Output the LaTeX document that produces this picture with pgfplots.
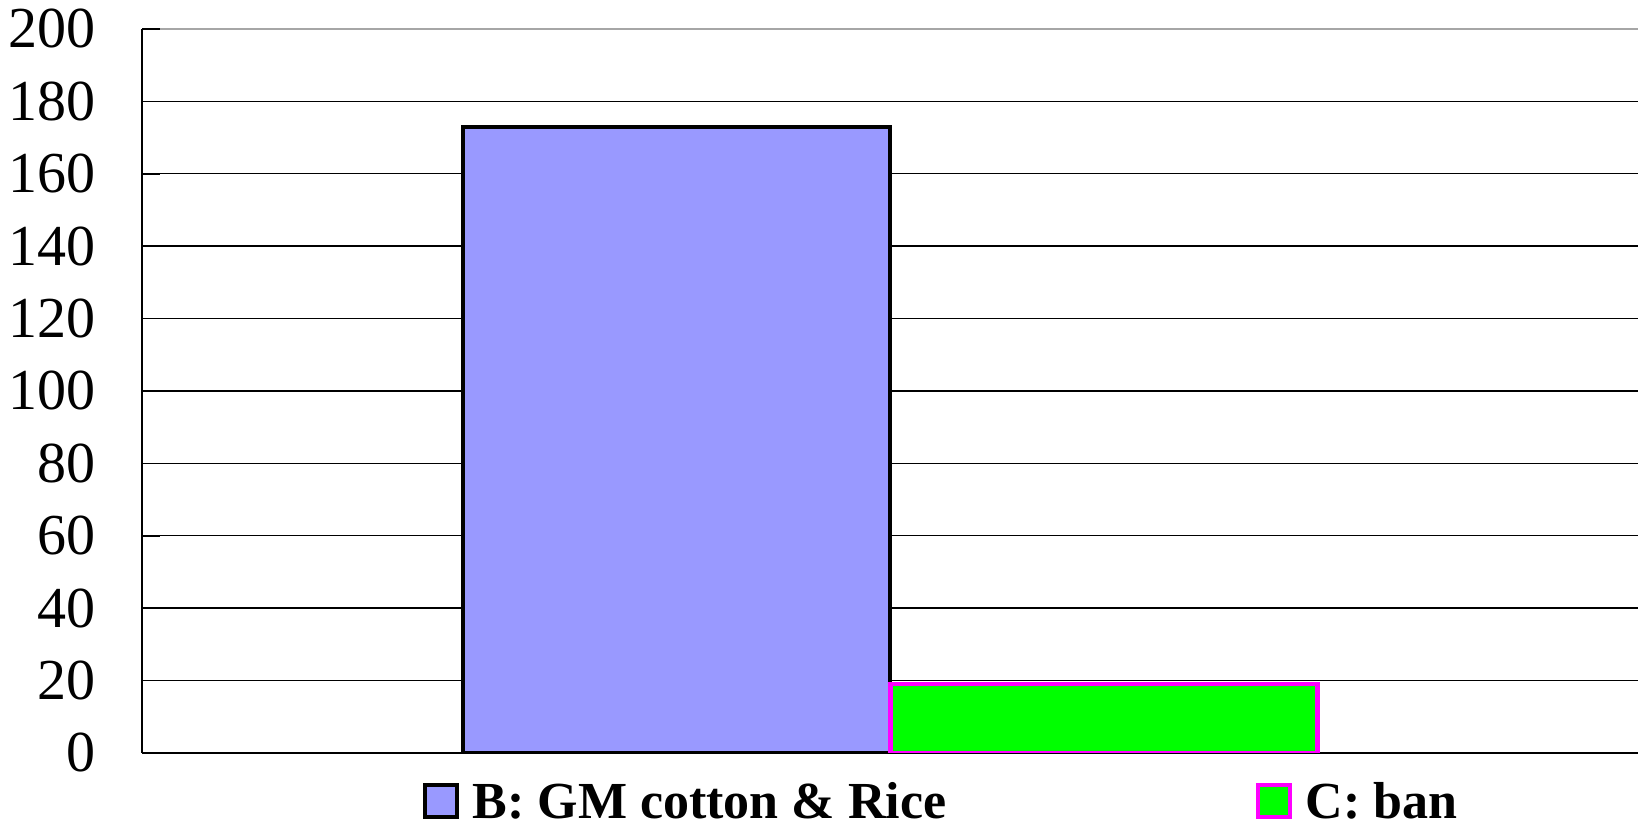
\documentclass[border=0pt]{standalone}
\usepackage{fontspec}
\setmainfont{Liberation Serif}
\usepackage{pgfplots}
\pgfplotsset{compat=1.18}

\definecolor{barB}{HTML}{9999FF}
\definecolor{barC}{HTML}{00FF00}
\definecolor{edgeC}{HTML}{FF00FF}

\begin{document}
\begin{tikzpicture}
\useasboundingbox (0,0) rectangle (819pt,414pt);
\begin{axis}[
  at={(71pt,37.5pt)}, anchor=south west,
  scale only axis,
  width=748pt, height=362pt,
  xmin=0, xmax=1496,
  ymin=0, ymax=200,
  xtick=\empty,
  ytick={0,20,...,180},
  extra y ticks={200},
  extra y tick style={grid style={gray!70, line width=0.9pt}},
  axis y line=left, axis x line=bottom,
  axis line style={-, line width=1pt, black},
  ymajorgrids,
  grid style={black, line width=0.7pt},
  tick align=inside, major tick length=9pt,
  tick style={black, line width=0.8pt},
  /pgf/number format/assume math mode=true,
  yticklabel style={font=\fontsize{29}{30}\selectfont, inner sep=0pt, xshift=-23pt},
  ybar, bar shift=0pt, bar width=213.5pt,
  legend columns=2,
  legend style={at={(0.535,-0.068)}, anchor=center, draw=none, fill=none, inner sep=0pt,
    font=\fontsize{26}{28}\selectfont\bfseries,
    /tikz/every even column/.append style={column sep=153pt}},
  legend image code/.code={\draw[#1, line width=2pt] (0pt,-7.5pt) rectangle (16pt,8.5pt); \path (20.5pt,0pt);},
]
\addplot[fill=barB, draw=black, line width=2.2pt] coordinates {(534.5,173)};
\addlegendentry{B: GM cotton \& Rice}
\addplot[fill=barC, draw=edgeC, line width=2.2pt] coordinates {(962,19)};
\addlegendentry{C: ban}
\end{axis}
\end{tikzpicture}
\end{document}
